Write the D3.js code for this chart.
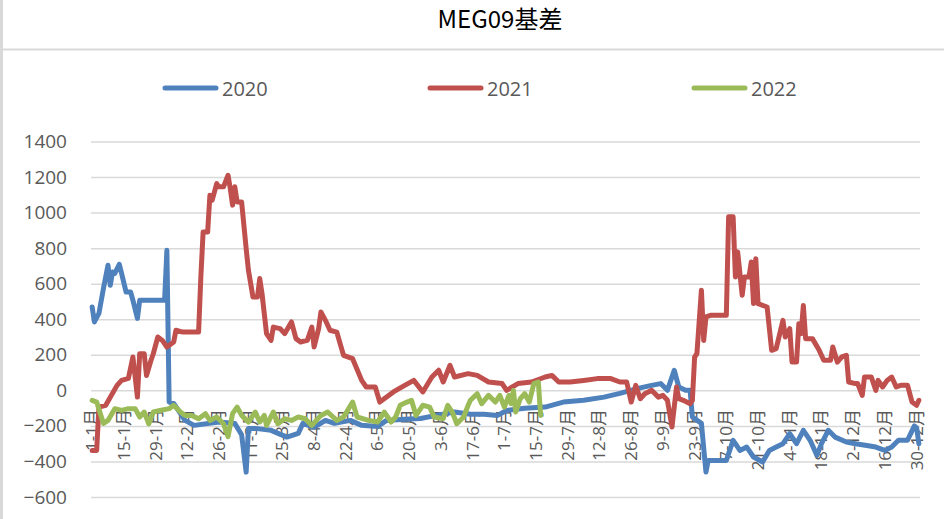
<!DOCTYPE html>
<html>
<head>
<meta charset="utf-8">
<script src="https://cdn.jsdelivr.net/npm/d3@7"></script>
<style>
  body { margin: 0; background: #fff; }
  svg { display: block; font-family: "Open Sans", "Noto Sans CJK SC", sans-serif; }
</style>
</head>
<body>
<svg id="chart" width="944" height="519"></svg>
<script>
// x categories: every day of 2020 (leap year), labels every 14 days
const tickLabels = ['1-1月', '15-1月', '29-1月', '12-2月', '26-2月', '11-3月', '25-3月', '8-4月', '22-4月',
  '6-5月', '20-5月', '3-6月', '17-6月', '1-7月', '15-7月', '29-7月', '12-8月', '26-8月', '9-9月',
  '23-9月', '7-10月', '21-10月', '4-11月', '18-11月', '2-12月', '16-12月', '30-12月'];
const yTicks = [-600, -400, -200, 0, 200, 400, 600, 800, 1000, 1200, 1400];
const seriesNames = ['2020', '2021', '2022'];
const colors = ['#4f81bd', '#c0504d', '#9bbb59'];

// [day-month, basis]
const s2020 = [['1-1', 469], ['2-1', 385], ['4-1', 433], ['6-1', 574], ['8-1', 704], ['9-1', 591], ['10-1', 666],
  ['11-1', 658], ['13-1', 709], ['14-1', 658], ['16-1', 553], ['18-1', 553], ['19-1', 507], ['21-1', 405],
  ['22-1', 507], ['2-2', 507], ['3-2', 788], ['4-2', -66], ['6-2', -73], ['11-2', -169], ['15-2', -197],
  ['26-2', -178], ['4-3', -186], ['7-3', -250], ['9-3', -460], ['10-3', -214], ['13-3', -214], ['20-3', -225],
  ['27-3', -263], ['1-4', -242], ['3-4', -186], ['8-4', -208], ['13-4', -169], ['17-4', -186], ['24-4', -169],
  ['29-4', -197], ['6-5', -203], ['10-5', -169], ['18-5', -163], ['25-5', -158], ['1-6', -141], ['9-6', -122],
  ['16-6', -135], ['22-6', -135], ['28-6', -141], ['2-7', -113], ['10-7', -101], ['19-7', -94], ['27-7', -66],
  ['5-8', -56], ['14-8', -38], ['21-8', -17], ['29-8', 11], ['4-9', 28], ['8-9', 38], ['11-9', 0], ['14-9', 113],
  ['16-9', 19], ['19-9', 0], ['21-9', 0], ['22-9', -150], ['26-9', -186], ['28-9', -460], ['29-9', -394],
  ['7-10', -394], ['10-10', -281], ['13-10', -338], ['16-10', -319], ['19-10', -375], ['23-10', -403],
  ['26-10', -338], ['29-10', -319], ['1-11', -300], ['4-11', -244], ['7-11', -300], ['10-11', -225],
  ['13-11', -281], ['16-11', -366], ['18-11', -300], ['21-11', -225], ['24-11', -263], ['29-11', -291],
  ['3-12', -300], ['8-12', -310], ['12-12', -319], ['16-12', -338], ['19-12', -319], ['22-12', -281],
  ['26-12', -281], ['29-12', -200], ['30-12', -210], ['31-12', -300]];

const s2021 = [['1-1', -338], ['3-1', -338], ['4-1', -94], ['7-1', -84], ['12-1', 28], ['14-1', 56], ['17-1', 67],
  ['19-1', 188], ['20-1', 75], ['21-1', -38], ['22-1', 206], ['24-1', 206], ['25-1', 84], ['27-1', 169],
  ['28-1', 206], ['30-1', 300], ['1-2', 281], ['3-2', 244], ['6-2', 272], ['7-2', 338], ['10-2', 328],
  ['17-2', 328], ['18-2', 638], ['19-2', 891], ['21-2', 891], ['22-2', 1098], ['23-2', 1070], ['25-2', 1163],
  ['26-2', 1145], ['28-2', 1145], ['1-3', 1210], ['2-3', 1135], ['3-3', 1042], ['4-3', 1145], ['5-3', 1060],
  ['7-3', 1060], ['9-3', 798], ['10-3', 676], ['12-3', 525], ['14-3', 525], ['15-3', 629], ['16-3', 544],
  ['18-3', 319], ['20-3', 281], ['21-3', 356], ['24-3', 347], ['26-3', 319], ['29-3', 385], ['31-3', 291],
  ['2-4', 272], ['5-4', 281], ['7-4', 356], ['8-4', 244], ['10-4', 347], ['11-4', 441], ['13-4', 394],
  ['15-4', 338], ['18-4', 328], ['21-4', 197], ['25-4', 178], ['29-4', 56], ['1-5', 19], ['5-5', 19],
  ['7-5', -66], ['10-5', -38], ['13-5', -9], ['18-5', 28], ['22-5', 56], ['26-5', -9], ['30-5', 75],
  ['2-6', 113], ['4-6', 47], ['7-6', 141], ['9-6', 75], ['15-6', 94], ['19-6', 84], ['24-6', 47], ['30-6', 38],
  ['2-7', 0], ['7-7', 38], ['13-7', 47], ['19-7', 75], ['22-7', 84], ['25-7', 47], ['30-7', 47], ['5-8', 56],
  ['11-8', 66], ['17-8', 66], ['21-8', 47], ['24-8', 47], ['26-8', -66], ['28-8', 28], ['30-8', -47],
  ['1-9', -19], ['4-9', 0], ['7-9', -38], ['9-9', -28], ['11-9', -56], ['13-9', -206], ['15-9', 19],
  ['16-9', -47], ['18-9', -56], ['21-9', -75], ['22-9', -56], ['23-9', 188], ['24-9', 206], ['26-9', 563],
  ['27-9', 281], ['28-9', 413], ['30-9', 422], ['7-10', 422], ['8-10', 976], ['10-10', 976], ['11-10', 638],
  ['12-10', 779], ['14-10', 535], ['15-10', 638], ['17-10', 638], ['18-10', 722], ['19-10', 488],
  ['20-10', 741], ['21-10', 488], ['25-10', 469], ['27-10', 225], ['29-10', 235], ['1-11', 394],
  ['2-11', 300], ['4-11', 347], ['5-11', 159], ['7-11', 159], ['8-11', 375], ['9-11', 319], ['10-11', 478],
  ['11-11', 291], ['14-11', 291], ['17-11', 225], ['19-11', 169], ['22-11', 169], ['23-11', 244],
  ['25-11', 159], ['27-11', 188], ['29-11', 197], ['30-11', 47], ['3-12', 38], ['4-12', 38], ['6-12', -28],
  ['7-12', 75], ['10-12', 75], ['12-12', 0], ['13-12', 56], ['15-12', 19], ['17-12', 56], ['19-12', 75],
  ['21-12', 19], ['23-12', 28], ['26-12', 28], ['28-12', -66], ['30-12', -84], ['31-12', -56]];

const s2022 = [['1-1', -56], ['3-1', -66], ['6-1', -186], ['8-1', -169], ['11-1', -103], ['14-1', -113],
  ['17-1', -103], ['20-1', -103], ['22-1', -150], ['24-1', -122], ['26-1', -188], ['28-1', -122],
  ['31-1', -113], ['4-2', -103], ['6-2', -84], ['9-2', -122], ['11-2', -141], ['14-2', -141], ['17-2', -160],
  ['20-2', -131], ['22-2', -169], ['25-2', -150], ['28-2', -188], ['1-3', -260], ['3-3', -131], ['5-3', -94],
  ['7-3', -141], ['10-3', -178], ['13-3', -122], ['15-3', -178], ['17-3', -141], ['18-3', -197],
  ['21-3', -122], ['23-3', -188], ['26-3', -160], ['29-3', -169], ['1-4', -150], ['4-4', -160], ['7-4', -197],
  ['11-4', -141], ['14-4', -122], ['18-4', -169], ['21-4', -150], ['25-4', -66], ['27-4', -150], ['2-5', -169],
  ['6-5', -178], ['9-5', -122], ['12-5', -178], ['14-5', -150], ['16-5', -84], ['19-5', -66], ['21-5', -56],
  ['23-5', -141], ['26-5', -84], ['29-5', -94], ['31-5', -150], ['4-6', -160], ['6-6', -84], ['8-6', -122],
  ['10-6', -188], ['13-6', -150], ['15-6', -84], ['16-6', -56], ['19-6', -19], ['21-6', -75], ['24-6', -28],
  ['27-6', -66], ['29-6', -28], ['1-7', -94], ['3-7', -28], ['4-7', -75], ['5-7', 0], ['6-7', -122],
  ['8-7', -47], ['10-7', -19], ['12-7', -66], ['14-7', 38], ['16-7', 47], ['17-7', -141]];

const svg = d3.select('#chart');
const start = new Date(2020, 0, 1);
const days = d3.timeDay.range(start, new Date(2021, 0, 1));
const dayIndex = function (s) {
  const p = s.split('-');
  return d3.timeDay.count(start, new Date(2020, +p[1] - 1, +p[0]));
};

const x = d3.scaleBand().domain(d3.range(days.length)).range([91, 920]);
const xc = function (i) { return x(i) + x.bandwidth() / 2; };
const y = d3.scaleLinear().domain([-600, 1400]).range([497, 141.5]);

// frame pieces
svg.append('rect').attr('x', 0).attr('y', 0).attr('width', 3).attr('height', 519).attr('fill', '#d9d9d9');
svg.append('line').attr('x1', 0).attr('x2', 944).attr('y1', 49.5).attr('y2', 49.5)
  .attr('stroke', '#d9d9d9').attr('stroke-width', 2);

svg.append('text').attr('x', 500).attr('y', 28).attr('text-anchor', 'middle')
  .attr('font-size', 24).attr('fill', '#000')
  .style('font-family', '"Noto Sans CJK SC", sans-serif')
  .text('MEG09基差');

// legend
const legend = svg.append('g');
const legendX = [163, 428, 692];
seriesNames.forEach(function (name, i) {
  legend.append('line').attr('x1', legendX[i] + 2).attr('x2', legendX[i] + 53)
    .attr('y1', 88).attr('y2', 88).attr('stroke', colors[i]).attr('stroke-width', 5)
    .attr('stroke-linecap', 'round');
  legend.append('text').attr('x', legendX[i] + 59).attr('y', 95.5)
    .attr('font-size', 20).attr('fill', '#595959').text(name);
});

// grid + y axis
const yAxis = d3.axisLeft(y).tickValues(yTicks).tickFormat(d3.format('d')).tickSize(-829).tickPadding(24);
const gy = svg.append('g').attr('transform', 'translate(91,0)').call(yAxis);
gy.select('.domain').remove();
gy.selectAll('.tick line').attr('stroke', '#d9d9d9').attr('stroke-width', 1.5);
gy.selectAll('.tick text').attr('font-size', 19).attr('fill', '#595959')
  .style('font-family', '"Open Sans", sans-serif');

// category labels
const tickIdx = tickLabels.map(function (t) { return dayIndex(t.replace('月', '')); });
svg.append('g').selectAll('text').data(tickLabels).enter().append('text')
  .attr('transform', function (d, i) { return 'translate(' + xc(tickIdx[i]) + ',409) rotate(-90)'; })
  .attr('dy', '0.35em').attr('text-anchor', 'end')
  .attr('font-size', 17).attr('fill', '#595959')
  .text(function (d) { return d; });

// series
const line = d3.line()
  .x(function (d) { return xc(dayIndex(d[0])); })
  .y(function (d) { return y(d[1]); });

[s2020, s2021, s2022].forEach(function (s, i) {
  svg.append('path').datum(s).attr('d', line)
    .attr('fill', 'none').attr('stroke', colors[i]).attr('stroke-width', 5)
    .attr('stroke-linejoin', 'round').attr('stroke-linecap', 'round');
});
</script>
</body>
</html>
